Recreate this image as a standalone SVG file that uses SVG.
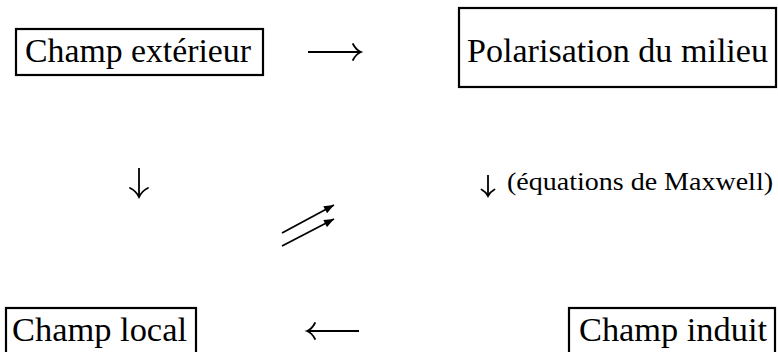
<svg xmlns="http://www.w3.org/2000/svg" width="778" height="352" viewBox="0 0 778 352">
<style>
.box{fill:#fff;stroke:#000;stroke-width:2.2}
.t{font-family:"Liberation Serif","DejaVu Serif",serif;font-size:34px;fill:#000}
.lbl{font-family:"Liberation Serif","DejaVu Serif",serif;font-size:25px;fill:#000}
.ln{stroke:#000;stroke-width:1.8;fill:none}
.hd{stroke:#000;stroke-width:1.8;fill:none;stroke-linecap:round}
</style>
<defs>
<marker id="tri" viewBox="0 0 10 8" refX="10" refY="4" markerWidth="11" markerHeight="8" markerUnits="userSpaceOnUse" orient="auto">
<path d="M0,0 L10,4 L0,8 Z" fill="#000"/>
</marker>
</defs>
<g id="champ-exterieur">
<rect class="box" x="16" y="29" width="247" height="46"/>
<text class="t" x="25" y="62" textLength="226" lengthAdjust="spacingAndGlyphs">Champ extérieur</text>
</g>
<g id="polarisation">
<rect class="box" x="459" y="8" width="317" height="79"/>
<text class="t" x="467" y="62" textLength="301" lengthAdjust="spacingAndGlyphs">Polarisation du milieu</text>
</g>
<g id="champ-local">
<rect class="box" x="6" y="308" width="190" height="50"/>
<text class="t" x="12" y="341" textLength="175" lengthAdjust="spacingAndGlyphs">Champ local</text>
</g>
<g id="champ-induit">
<rect class="box" x="569" y="308" width="206" height="50"/>
<text class="t" x="579" y="341" textLength="188" lengthAdjust="spacingAndGlyphs">Champ induit</text>
</g>
<g id="connectors">
<line class="ln" x1="308" y1="52" x2="360" y2="52"/>
<path class="hd" d="M353,44 Q356,50 361,52 Q356,54 353,60"/>
<line class="ln" x1="139" y1="168" x2="139" y2="196"/>
<path class="hd" d="M130,188 Q136,191 139,197 Q142,191 148,188"/>
<line class="ln" x1="488" y1="175" x2="488" y2="195"/>
<path class="hd" d="M481.5,189.5 Q486,192 488,196 Q490,192 494.5,189.5"/>
<text class="lbl" x="507" y="190" textLength="266" lengthAdjust="spacingAndGlyphs">(équations de Maxwell)</text>
<line class="ln" x1="308" y1="331" x2="359" y2="331"/>
<path class="hd" d="M315,323 Q312,329 307,331 Q312,333 315,339"/>
<line class="ln" x1="282" y1="233" x2="334" y2="205" marker-end="url(#tri)"/>
<line class="ln" x1="282" y1="246" x2="334" y2="219" marker-end="url(#tri)"/>
</g>
</svg>
